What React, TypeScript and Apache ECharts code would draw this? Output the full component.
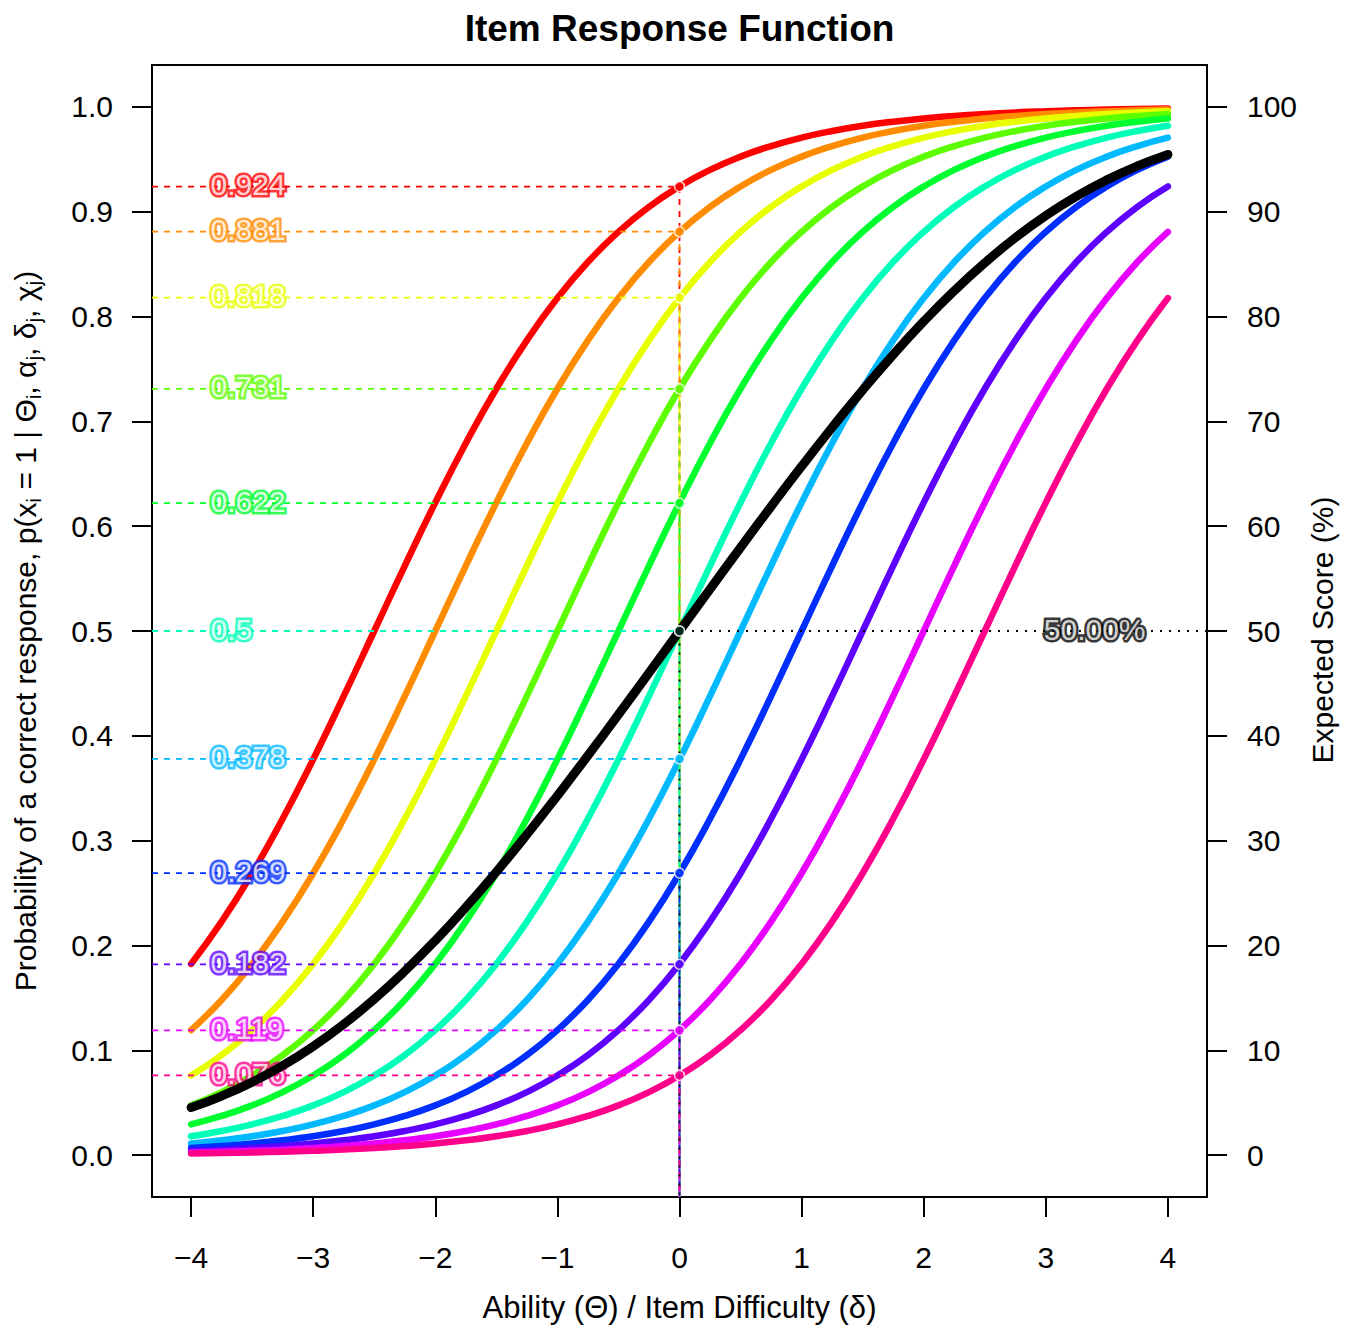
import React, { useEffect, useRef } from "react";
import * as echarts from "echarts";

// Ability grid (theta) at which the curves were read
const thetaGrid = [-4, -3.75, -3.5, -3.25, -3, -2.75, -2.5, -2.25, -2, -1.75, -1.5, -1.25, -1, -0.75, -0.5, -0.25, 0, 0.25, 0.5, 0.75, 1, 1.25, 1.5, 1.75, 2, 2.25, 2.5, 2.75, 3, 3.25, 3.5, 3.75, 4];

const itemColors = ["#FF0000", "#FF8B00", "#E8FF00", "#5DFF00", "#00FF2E", "#00FFB9", "#00B9FF", "#002EFF", "#5D00FF", "#E800FF", "#FF008B"];

// Item response curves, values read at thetaGrid
const item1 = [0.1824, 0.2227, 0.2689, 0.3208, 0.3775, 0.4378, 0.5, 0.5622, 0.6225, 0.6792, 0.7311, 0.7773, 0.8176, 0.852, 0.8808, 0.9047, 0.9241, 0.9399, 0.9526, 0.9627, 0.9707, 0.977, 0.982, 0.9859, 0.989, 0.9914, 0.9933, 0.9948, 0.9959, 0.9968, 0.9975, 0.9981, 0.9985];
const item2 = [0.1192, 0.148, 0.1824, 0.2227, 0.2689, 0.3208, 0.3775, 0.4378, 0.5, 0.5622, 0.6225, 0.6792, 0.7311, 0.7773, 0.8176, 0.852, 0.8808, 0.9047, 0.9241, 0.9399, 0.9526, 0.9627, 0.9707, 0.977, 0.982, 0.9859, 0.989, 0.9914, 0.9933, 0.9948, 0.9959, 0.9968, 0.9975];
const item3 = [0.0759, 0.0953, 0.1192, 0.148, 0.1824, 0.2227, 0.2689, 0.3208, 0.3775, 0.4378, 0.5, 0.5622, 0.6225, 0.6792, 0.7311, 0.7773, 0.8176, 0.852, 0.8808, 0.9047, 0.9241, 0.9399, 0.9526, 0.9627, 0.9707, 0.977, 0.982, 0.9859, 0.989, 0.9914, 0.9933, 0.9948, 0.9959];
const item4 = [0.0474, 0.0601, 0.0759, 0.0953, 0.1192, 0.148, 0.1824, 0.2227, 0.2689, 0.3208, 0.3775, 0.4378, 0.5, 0.5622, 0.6225, 0.6792, 0.7311, 0.7773, 0.8176, 0.852, 0.8808, 0.9047, 0.9241, 0.9399, 0.9526, 0.9627, 0.9707, 0.977, 0.982, 0.9859, 0.989, 0.9914, 0.9933];
const item5 = [0.0293, 0.0373, 0.0474, 0.0601, 0.0759, 0.0953, 0.1192, 0.148, 0.1824, 0.2227, 0.2689, 0.3208, 0.3775, 0.4378, 0.5, 0.5622, 0.6225, 0.6792, 0.7311, 0.7773, 0.8176, 0.852, 0.8808, 0.9047, 0.9241, 0.9399, 0.9526, 0.9627, 0.9707, 0.977, 0.982, 0.9859, 0.989];
const item6 = [0.018, 0.023, 0.0293, 0.0373, 0.0474, 0.0601, 0.0759, 0.0953, 0.1192, 0.148, 0.1824, 0.2227, 0.2689, 0.3208, 0.3775, 0.4378, 0.5, 0.5622, 0.6225, 0.6792, 0.7311, 0.7773, 0.8176, 0.852, 0.8808, 0.9047, 0.9241, 0.9399, 0.9526, 0.9627, 0.9707, 0.977, 0.982];
const item7 = [0.011, 0.0141, 0.018, 0.023, 0.0293, 0.0373, 0.0474, 0.0601, 0.0759, 0.0953, 0.1192, 0.148, 0.1824, 0.2227, 0.2689, 0.3208, 0.3775, 0.4378, 0.5, 0.5622, 0.6225, 0.6792, 0.7311, 0.7773, 0.8176, 0.852, 0.8808, 0.9047, 0.9241, 0.9399, 0.9526, 0.9627, 0.9707];
const item8 = [0.0067, 0.0086, 0.011, 0.0141, 0.018, 0.023, 0.0293, 0.0373, 0.0474, 0.0601, 0.0759, 0.0953, 0.1192, 0.148, 0.1824, 0.2227, 0.2689, 0.3208, 0.3775, 0.4378, 0.5, 0.5622, 0.6225, 0.6792, 0.7311, 0.7773, 0.8176, 0.852, 0.8808, 0.9047, 0.9241, 0.9399, 0.9526];
const item9 = [0.0041, 0.0052, 0.0067, 0.0086, 0.011, 0.0141, 0.018, 0.023, 0.0293, 0.0373, 0.0474, 0.0601, 0.0759, 0.0953, 0.1192, 0.148, 0.1824, 0.2227, 0.2689, 0.3208, 0.3775, 0.4378, 0.5, 0.5622, 0.6225, 0.6792, 0.7311, 0.7773, 0.8176, 0.852, 0.8808, 0.9047, 0.9241];
const item10 = [0.0025, 0.0032, 0.0041, 0.0052, 0.0067, 0.0086, 0.011, 0.0141, 0.018, 0.023, 0.0293, 0.0373, 0.0474, 0.0601, 0.0759, 0.0953, 0.1192, 0.148, 0.1824, 0.2227, 0.2689, 0.3208, 0.3775, 0.4378, 0.5, 0.5622, 0.6225, 0.6792, 0.7311, 0.7773, 0.8176, 0.852, 0.8808];
const item11 = [0.0015, 0.0019, 0.0025, 0.0032, 0.0041, 0.0052, 0.0067, 0.0086, 0.011, 0.0141, 0.018, 0.023, 0.0293, 0.0373, 0.0474, 0.0601, 0.0759, 0.0953, 0.1192, 0.148, 0.1824, 0.2227, 0.2689, 0.3208, 0.3775, 0.4378, 0.5, 0.5622, 0.6225, 0.6792, 0.7311, 0.7773, 0.8176];
const items = [item1, item2, item3, item4, item5, item6, item7, item8, item9, item10, item11];

// Test (expected score) curve
const testCurve = [0.0453, 0.0563, 0.0696, 0.0853, 0.1037, 0.1248, 0.1488, 0.1755, 0.2047, 0.2364, 0.2702, 0.3058, 0.3429, 0.3812, 0.4203, 0.46, 0.5, 0.54, 0.5797, 0.6188, 0.6571, 0.6942, 0.7298, 0.7636, 0.7953, 0.8246, 0.8512, 0.8752, 0.8963, 0.9147, 0.9304, 0.9437, 0.9547];

// Probabilities at theta = 0
const valuesAtZero = [0.924, 0.881, 0.818, 0.731, 0.622, 0.5, 0.378, 0.269, 0.182, 0.119, 0.076];
const valueLabels = ["0.924", "0.881", "0.818", "0.731", "0.622", "0.5", "0.378", "0.269", "0.182", "0.119", "0.076"];

const expectedValue = 0.5;
const expectedLabel = "50.00%";

const xTicks = [-4, -3, -2, -1, 0, 1, 2, 3, 4];
const yTicks = [0, 0.1, 0.2, 0.3, 0.4, 0.5, 0.6, 0.7, 0.8, 0.9, 1.0];
const yRightTicks = [0, 10, 20, 30, 40, 50, 60, 70, 80, 90, 100];

const X_MIN = -4.32;
const X_MAX = 4.32;
const Y_MIN = -0.04;
const Y_MAX = 1.04;

const FONT = "'Liberation Sans', Arial, Helvetica, sans-serif";

function buildOption() {
  const series: any[] = [];

  items.forEach((vals, k) => {
    series.push({
      type: "line",
      data: thetaGrid.map((t, i) => [t, vals[i]]),
      smooth: 0.5,
      showSymbol: false,
      symbol: "none",
      silent: true,
      z: 2,
      lineStyle: { color: itemColors[k], width: 6.5, cap: "round", join: "round" },
    });
  });

  items.forEach((_, k) => {
    const v = valuesAtZero[k];
    series.push({
      type: "line",
      data: [[X_MIN, v], [0, v], [0, Y_MIN]],
      symbol: "none",
      silent: true,
      z: 3,
      lineStyle: { color: itemColors[k], width: 1.8, type: [6, 6] },
    });
  });

  items.forEach((_, k) => {
    series.push({
      type: "scatter",
      data: [[-4, valuesAtZero[k]]],
      symbolSize: 1,
      silent: true,
      z: 4,
      itemStyle: { color: "transparent" },
      label: {
        show: true,
        position: "right",
        distance: 19,
        offset: [0, -2],
        formatter: valueLabels[k],
        color: "#ffffff",
        textBorderColor: itemColors[k],
        textBorderWidth: 5,
        fontSize: 30,
        fontFamily: FONT,
      },
    });
  });

  series.push({
    type: "line",
    data: thetaGrid.map((t, i) => [t, testCurve[i]]),
    smooth: 0.5,
    showSymbol: false,
    symbol: "none",
    silent: true,
    z: 5,
    lineStyle: { color: "#000000", width: 9, cap: "round", join: "round" },
  });

  series.push({
    type: "line",
    data: [[X_MAX, expectedValue], [0, expectedValue], [0, Y_MIN]],
    symbol: "none",
    silent: true,
    z: 5,
    lineStyle: { color: "#000000", width: 1.8, type: [2, 7] },
  });

  series.push({
    type: "scatter",
    data: valuesAtZero
      .map((v, k) => ({ value: [0, v], itemStyle: { color: itemColors[k] } }))
      .concat([{ value: [0, expectedValue], itemStyle: { color: "#000000" } }]),
    symbolSize: 10,
    silent: true,
    z: 6,
    itemStyle: { borderColor: "#ffffff", borderWidth: 1.5 },
  });

  series.push({
    type: "scatter",
    data: [[3.4, expectedValue]],
    symbolSize: 1,
    silent: true,
    z: 7,
    itemStyle: { color: "transparent" },
    label: {
      show: true,
      position: "inside",
      offset: [0, -2],
      formatter: expectedLabel,
      color: "#ffffff",
      textBorderColor: "#000000",
      textBorderWidth: 5,
      fontSize: 30,
      fontFamily: FONT,
    },
  });

  const labelStyle = { color: "#000", fontSize: 30, fontFamily: FONT, lineHeight: 30 };
  const tickStyle = { show: true, inside: false, length: 20, lineStyle: { color: "#000", width: 2 } };
  const hiddenLine = { show: false, onZero: false };

  return {
    animation: false,
    backgroundColor: "#ffffff",
    grid: {
      left: 152,
      right: 138,
      top: 65,
      bottom: 130,
      show: true,
      borderColor: "#000",
      borderWidth: 2,
      backgroundColor: "transparent",
      containLabel: false,
    },
    xAxis: {
      type: "value",
      min: X_MIN,
      max: X_MAX,
      axisLine: hiddenLine,
      splitLine: { show: false },
      axisTick: { ...tickStyle, customValues: xTicks },
      axisLabel: {
        ...labelStyle,
        margin: 45,
        customValues: xTicks,
        formatter: (v: number) => (v < 0 ? "\u2212" + Math.abs(v) : String(v)),
      },
    },
    yAxis: [
      {
        type: "value",
        position: "left",
        min: Y_MIN,
        max: Y_MAX,
        axisLine: hiddenLine,
        splitLine: { show: false },
        axisTick: { ...tickStyle, customValues: yTicks },
        axisLabel: {
          ...labelStyle,
          margin: 39,
          customValues: yTicks,
          formatter: (v: number) => v.toFixed(1),
        },
      },
      {
        type: "value",
        position: "right",
        min: Y_MIN * 100,
        max: Y_MAX * 100,
        axisLine: hiddenLine,
        splitLine: { show: false },
        axisTick: { ...tickStyle, customValues: yRightTicks },
        axisLabel: {
          ...labelStyle,
          margin: 40,
          customValues: yRightTicks,
          formatter: (v: number) => String(Math.round(v)),
        },
      },
    ],
    graphic: [
      {
        type: "text",
        x: 679.5,
        y: 28,
        silent: true,
        style: {
          text: "Item Response Function",
          fontSize: 37,
          fontWeight: "bold",
          fontFamily: FONT,
          fill: "#000",
          align: "center",
          verticalAlign: "middle",
        },
      },
      {
        type: "text",
        x: 679.5,
        y: 1307,
        silent: true,
        style: {
          text: "Ability (\u0398) / Item Difficulty (\u03B4)",
          fontSize: 31,
          fontFamily: FONT,
          fill: "#000",
          align: "center",
          verticalAlign: "middle",
        },
      },
      {
        type: "text",
        x: 27,
        y: 631,
        rotation: Math.PI / 2,
        silent: true,
        style: {
          text: "{n|Probability of a correct response, p(x}{s|i}{n| = 1 | \u0398}{s|i}{n|, \u03B1}{s|j}{n|, \u03B4}{s|j}{n|, \u03C7}{s|j}{n|)}",
          fontSize: 30,
          fontFamily: FONT,
          fill: "#000",
          align: "center",
          verticalAlign: "middle",
          rich: {
            n: { fontSize: 30, lineHeight: 30, verticalAlign: "top", fontFamily: FONT, fill: "#000" },
            s: { fontSize: 21, lineHeight: 34, verticalAlign: "bottom", fontFamily: FONT, fill: "#000" },
          },
        },
      },
      {
        type: "text",
        x: 1322,
        y: 630,
        rotation: Math.PI / 2,
        silent: true,
        style: {
          text: "Expected Score (%)",
          fontSize: 30,
          fontFamily: FONT,
          fill: "#000",
          align: "center",
          verticalAlign: "middle",
        },
      },
    ],
    series,
  };
}

export default function App() {
  const ref = useRef<HTMLDivElement>(null);
  useEffect(() => {
    if (!ref.current) return;
    const chart = echarts.init(ref.current, null, { renderer: "svg" });
    chart.setOption(buildOption() as any);
    return () => {
      chart.dispose();
    };
  }, []);
  return (
    <div
      ref={ref}
      style={{ position: "fixed", left: 0, top: 0, width: 1345, height: 1327, background: "#fff" }}
    />
  );
}
